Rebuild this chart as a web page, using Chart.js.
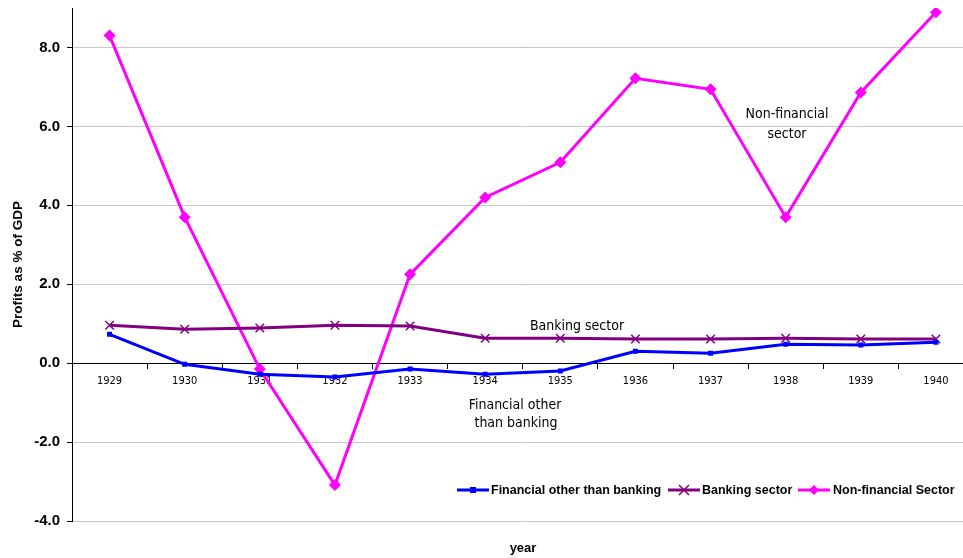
<!DOCTYPE html>
<html>
<head>
<meta charset="utf-8">
<title>Profits as % of GDP</title>
<script src="https://cdn.jsdelivr.net/npm/chart.js@4.4.1/dist/chart.umd.min.js"></script>
<style>
  html, body { margin: 0; padding: 0; background: #fff; overflow: hidden; }
  #wrap { position: relative; width: 981px; height: 558px; }
</style>
</head>
<body>
<div id="wrap"><canvas id="profitChart" width="981" height="558"></canvas></div>
<script>
'use strict';
//data
var years = ['1929','1930','1931','1932','1933','1934','1935','1936','1937','1938','1939','1940'];
var financialOther = [0.73, -0.03, -0.28, -0.35, -0.15, -0.28, -0.20, 0.30, 0.25, 0.48, 0.46, 0.53];
var bankingSector = [0.96, 0.86, 0.89, 0.96, 0.94, 0.63, 0.63, 0.61, 0.61, 0.63, 0.61, 0.61];
var nonFinancial = [8.30, 3.70, -0.15, -3.09, 2.25, 4.20, 5.09, 7.22, 6.94, 3.70, 6.86, 8.89];
var seriesNames = ['Financial other than banking', 'Banking sector', 'Non-financial Sector'];
var yTicks = [-4, -2, 0, 2, 4, 6, 8];

var narrow = "'DejaVu Sans Condensed', 'Liberation Sans Narrow', sans-serif";
var arial = "'Liberation Sans', Arial, sans-serif";

//text labels drawn on the plot, legend and x title
var notesPlugin = {
  id: 'notes',
  afterDraw: function(chart){
    var ctx = chart.ctx;
    ctx.save();
    ctx.fillStyle = '#000';
    ctx.textAlign = 'center';
    ctx.textBaseline = 'middle';
    ctx.font = '14px ' + narrow;
    ctx.fillText('Non-financial', 787, 114);
    ctx.fillText('sector', 787, 134);
    ctx.fillText('Banking sector', 577, 326);
    ctx.fillText('Financial other', 515, 405);
    ctx.fillText('than banking', 516, 423);

    //x axis title
    ctx.font = 'bold 13px ' + arial;
    ctx.fillText('year', 523, 548);

    //legend
    var items = [
      {x: 457, tx: 491, color: '#0000ff', mark: 'square'},
      {x: 668, tx: 702, color: '#800080', mark: 'cross'},
      {x: 798, tx: 833, color: '#ff00ff', mark: 'diamond'}
    ];
    var ly = 490;
    ctx.textAlign = 'left';
    ctx.font = 'bold 12.5px ' + arial;
    for (var i = 0; i < items.length; i++){
      var it = items[i];
      ctx.strokeStyle = it.color;
      ctx.fillStyle = it.color;
      ctx.lineWidth = 3;
      ctx.beginPath();
      ctx.moveTo(it.x, ly);
      ctx.lineTo(it.x + 32, ly);
      ctx.stroke();
      var cx = it.x + 16;
      if (it.mark === 'square'){
        ctx.fillRect(cx - 3, ly - 3, 6, 6);
      } else if (it.mark === 'cross'){
        ctx.lineWidth = 1.5;
        ctx.beginPath();
        ctx.moveTo(cx - 5, ly - 5); ctx.lineTo(cx + 5, ly + 5);
        ctx.moveTo(cx + 5, ly - 5); ctx.lineTo(cx - 5, ly + 5);
        ctx.stroke();
      } else {
        ctx.beginPath();
        ctx.moveTo(cx, ly - 5); ctx.lineTo(cx + 5, ly);
        ctx.lineTo(cx, ly + 5); ctx.lineTo(cx - 5, ly);
        ctx.closePath();
        ctx.fill();
      }
      ctx.fillStyle = '#000';
      ctx.fillText(seriesNames[i], it.tx, ly + 1);
    }
    ctx.restore();
  }
};

var ctx = document.getElementById('profitChart');
var myChart = new Chart(ctx, {
  type: 'line',
  data: {
    labels: years,
    datasets: [{
      label: seriesNames[0],
      data: financialOther,
      borderColor: '#0000ff',
      backgroundColor: '#0000ff',
      borderWidth: 3,
      pointStyle: 'rect',
      pointRadius: 3.5,
      pointBorderWidth: 0
    }, {
      label: seriesNames[1],
      data: bankingSector,
      borderColor: '#800080',
      backgroundColor: '#800080',
      borderWidth: 3,
      pointStyle: 'crossRot',
      pointRadius: 6,
      pointBorderWidth: 1.5
    }, {
      label: seriesNames[2],
      data: nonFinancial,
      borderColor: '#ff00ff',
      backgroundColor: '#ff00ff',
      borderWidth: 3,
      pointStyle: 'rectRot',
      pointRadius: 6,
      pointBorderWidth: 0
    }]
  },
  options: {
    responsive: false,
    animation: false,
    layout: { padding: { top: 8, bottom: 37, left: 0, right: 2.5 } },
    plugins: {
      legend: { display: false },
      tooltip: { enabled: false }
    },
    elements: { line: { tension: 0 } },
    scales: {
      x: {
        position: { y: 0 },
        offset: true,
        afterFit: function(scale){
          scale.paddingLeft = 0;
          scale.paddingRight = 0;
        },
        grid: {
          offset: true,
          drawOnChartArea: false,
          tickLength: 5,
          tickColor: '#000'
        },
        border: { color: '#000', width: 1 },
        ticks: {
          color: '#000',
          font: { family: narrow, size: 11 },
          padding: 6,
          maxRotation: 0,
          autoSkip: false
        }
      },
      y: {
        min: -4,
        max: 9,
        afterBuildTicks: function(scale){
          scale.ticks = yTicks.map(function(v){ return {value: v}; });
        },
        afterFit: function(scale){
          scale.width = 72;
          scale.paddingTop = 0;
          scale.paddingBottom = 0;
        },
        grid: {
          color: '#c8c8c8',
          tickLength: 5,
          tickColor: '#000'
        },
        border: { color: '#000', width: 1 },
        ticks: {
          color: '#000',
          font: { family: arial, size: 15, weight: 'bold' },
          padding: 7,
          callback: function(v){ return v.toFixed(1); }
        },
        title: {
          display: true,
          text: 'Profits as % of GDP',
          color: '#000',
          font: { family: arial, size: 13.5, weight: 'bold' },
          padding: { top: 10, bottom: 4 }
        }
      }
    }
  },
  plugins: [notesPlugin]
});
</script>
</body>
</html>
